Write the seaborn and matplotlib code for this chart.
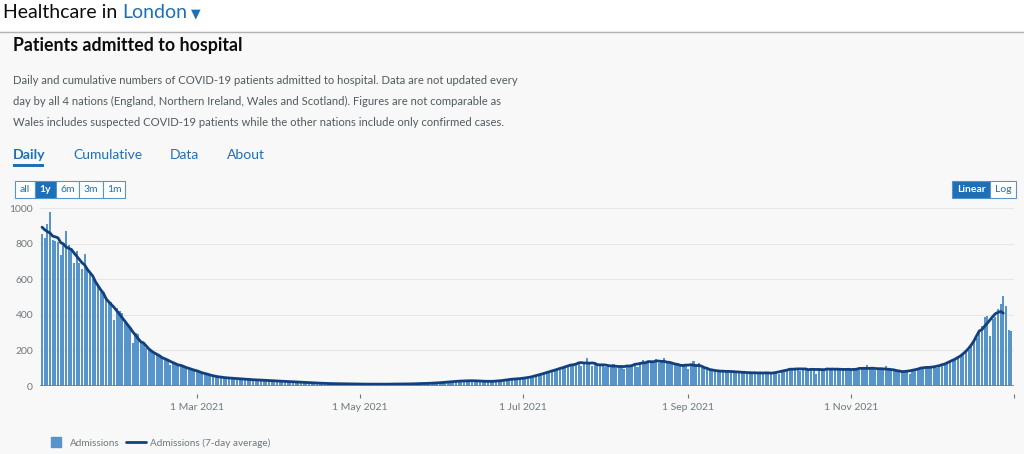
import numpy as np
import pandas as pd
import matplotlib
matplotlib.use("Agg")
import matplotlib.pyplot as plt
import matplotlib.dates as mdates
from matplotlib.patches import Rectangle
from matplotlib.lines import Line2D
import seaborn as sns

# daily admissions, London, 2 Jan 2021 - 31 Dec 2021
jan = [855, 830, 910, 975, 820, 815, 810,
       735, 800, 870, 790, 770, 690, 760,
       690, 660, 740, 665, 640, 600, 590,
       560, 530, 520, 500, 480, 470, 370, 440, 420]
feb = [410, 370, 345, 330, 240, 300, 290,
       255, 235, 215, 205, 195, 180, 175,
       170, 165, 155, 150, 120, 135, 130,
       115, 118, 110, 100, 105, 92, 88]
mar = [80, 85, 75, 72, 65, 55, 58, 56, 50, 48, 50, 45, 44, 42, 45, 41,
       40, 38, 40, 36, 35, 37, 34, 33, 32, 34, 31, 30, 32, 29, 28]
apr = [28, 27, 25, 26, 24, 23, 25, 22, 21, 20, 21, 19, 18, 17, 16,
       17, 15, 14, 15, 13, 14, 13, 12, 13, 12, 11, 12, 11, 10, 11]
may = [11, 10, 11, 12, 10, 11, 9, 10, 11, 12, 10, 9, 11, 10, 11, 12,
       11, 10, 12, 11, 13, 12, 14, 13, 15, 14, 16, 15, 17, 16, 18]
jun = [20, 22, 21, 24, 23, 26, 28, 27, 30, 32, 29, 31, 30, 28, 27,
       29, 26, 25, 27, 24, 25, 28, 30, 33, 36, 35, 38, 40, 42, 44]
jul = [40, 45, 42, 50, 55, 58, 62,
       68, 70, 72, 80, 88, 90, 95,
       98, 100, 108, 112, 118, 125, 130,
       132, 110, 135, 160, 128, 110, 130,
       125, 118, 122]
aug = [105, 120, 112, 125, 100, 108, 110,
       98, 115, 112, 120, 125, 105, 130,
       145, 128, 135, 140, 132, 150, 128,
       140, 160, 130, 128, 132, 122, 118,
       110, 125, 115]
sep = [95, 120, 140, 115, 130, 100, 105,
       98, 92, 85, 88, 80, 84, 82,
       86, 80, 84, 78, 82, 76, 80,
       74, 78, 72, 76, 70, 75, 73,
       76, 72]
oct_ = [74, 70, 78, 72, 65, 85, 90,
        95, 98, 100, 92, 100, 85, 98,
        100, 96, 94, 98, 70, 100, 95,
        97, 90, 96, 94, 98, 92, 100,
        90, 94, 88]
nov = [92, 95, 98, 90, 96, 100, 120,
       94, 98, 92, 96, 100, 90, 110,
       95, 92, 88, 84, 86, 80, 82,
       78, 70, 90, 98, 100, 102, 105,
       100, 108]
dec = [105, 110, 100, 112, 118, 125, 130,
       140, 138, 150, 160, 168, 175, 190,
       205, 225, 245, 270, 305, 335, 390,
       395, 280, 375, 390, 435, 460, 505,
       450, 315, 310]

tick_dates = ["2021-03-01", "2021-05-01", "2021-07-01", "2021-09-01", "2021-11-01", "2022-01-01"]
tick_labels = ["1 Mar 2021", "1 May 2021", "1 Jul 2021", "1 Sep 2021", "1 Nov 2021", ""]
y_ticks = [0, 200, 400, 600, 800, 1000]

description = [
    "Daily and cumulative numbers of COVID-19 patients admitted to hospital. Data are not updated every",
    "day by all 4 nations (England, Northern Ireland, Wales and Scotland). Figures are not comparable as",
    "Wales includes suspected COVID-19 patients while the other nations include only confirmed cases.",
]

admissions = jan + feb + mar + apr + may + jun + jul + aug + sep + oct_ + nov + dec
df = pd.DataFrame({
    "date": pd.date_range("2021-01-02", periods=len(admissions), freq="D"),
    "admissions": admissions,
})
df["x"] = mdates.date2num(df["date"])
# centred 7-day average, last 3 days left out (incomplete)
df["avg"] = df["admissions"].rolling(7, center=True, min_periods=4).mean()
df.loc[df.index[-3:], "avg"] = np.nan

BAR = "#5694ca"
LINE = "#12407c"
BLUE = "#1d70b8"
GREY = "#505a5f"
BG = "#f8f8f8"

sns.set_theme(style="white")
plt.rcParams["font.family"] = ["Lato", "DejaVu Sans"]

W, H = 1024, 454
fig = plt.figure(figsize=(W / 100, H / 100), dpi=100, facecolor=BG)


def fx(x):
    return x / W


def fy(y):
    return 1 - y / H


# page header
fig.add_artist(Rectangle((0, fy(31)), 1, 31 / H, transform=fig.transFigure,
                         facecolor="white", edgecolor="none", zorder=0))
fig.add_artist(Line2D([0, 1], [fy(31.5)] * 2, transform=fig.transFigure, color="#b1b4b6", lw=1))
fig.text(fx(3), fy(13), "Healthcare in", fontsize=14, color="#0b0c0c", va="center")
fig.text(fx(122), fy(13), "London", fontsize=14, color=BLUE, va="center")
fig.text(fx(191), fy(14), "\u25BC", fontsize=9, color=BLUE, va="center", family=["DejaVu Sans"])

fig.text(fx(13), fy(46), "Patients admitted to hospital", fontsize=12.8, fontweight="bold",
         color="#0b0c0c", va="center")
for i, line in enumerate(description):
    fig.text(fx(13), fy(80 + 21 * i), line, fontsize=8.1, color=GREY, va="center")

# tabs
fig.text(fx(13), fy(155), "Daily", fontsize=10.2, fontweight="bold", color=BLUE, va="center")
fig.add_artist(Rectangle((fx(13), fy(167)), fx(31), 3 / H, transform=fig.transFigure,
                         facecolor=BLUE, edgecolor="none"))
for label, x in [("Cumulative", 73), ("Data", 170), ("About", 227)]:
    fig.text(fx(x), fy(155), label, fontsize=10, color=BLUE, va="center")


def button_group(labels, edges, selected, top=181, bottom=198):
    for i, label in enumerate(labels):
        x0, x1 = edges[i], edges[i + 1]
        on = i == selected
        fig.add_artist(Rectangle((fx(x0), fy(bottom)), fx(x1 - x0), (bottom - top) / H,
                                 transform=fig.transFigure, facecolor=BLUE if on else "white",
                                 edgecolor=BAR, lw=0.8))
        fig.text(fx((x0 + x1) / 2), fy((top + bottom) / 2), label, fontsize=7.5,
                 color="white" if on else BLUE, fontweight="bold" if on else "normal",
                 ha="center", va="center")


button_group(["all", "1y", "6m", "3m", "1m"], [15, 35, 56, 79, 103, 125], 1)
button_group(["Linear", "Log"], [952, 990, 1016], 0)

# chart
ax = fig.add_axes([fx(40), fy(386), fx(1014 - 40), (386 - 208) / H])
ax.set_facecolor(BG)
sns.barplot(data=df, x="x", y="admissions", native_scale=True, color=BAR, saturation=1,
            width=0.8, linewidth=0, errorbar=None, ax=ax)
sns.lineplot(data=df, x="x", y="avg", color=LINE, lw=2, estimator=None, ax=ax)
ax.axhline(0, color="#7f7f7f", lw=1.2, zorder=5)

ax.set_xlim(mdates.date2num(pd.Timestamp("2021-01-01 06:00")),
            mdates.date2num(pd.Timestamp("2022-01-01")))
ax.set_ylim(0, 1000)
ax.set_xticks(mdates.date2num(pd.to_datetime(tick_dates)))
ax.set_xticklabels(tick_labels)
ax.set_yticks(y_ticks)
ax.set_xlabel("")
ax.set_ylabel("")
ax.yaxis.grid(True, color="#e6e6e6", lw=0.8)
ax.set_axisbelow(True)
for s in ["top", "right", "left"]:
    ax.spines[s].set_visible(False)
ax.spines["bottom"].set_position(("outward", 6))
ax.spines["bottom"].set_visible(False)
ax.tick_params(axis="x", length=3, width=0.8, color="#6f777b", labelsize=7.5,
               labelcolor="#6f777b", pad=3, bottom=True)
ax.tick_params(axis="y", length=0, labelsize=7.5, labelcolor="#6f777b", pad=5)

handles = [Line2D([], [], marker="s", linestyle="none", markersize=6.5, color=BAR),
           Line2D([], [], color=LINE, lw=2)]
ax.legend(handles, ["Admissions", "Admissions (7-day average)"], loc="center left",
          bbox_to_anchor=(fx(37), fy(443)), bbox_transform=fig.transFigure, ncol=2,
          frameon=False, fontsize=7.2, labelcolor="#6f777b", handlelength=2.0,
          handletextpad=0.4, columnspacing=0.6)

fig.savefig("out.png", dpi=100, facecolor=BG)
